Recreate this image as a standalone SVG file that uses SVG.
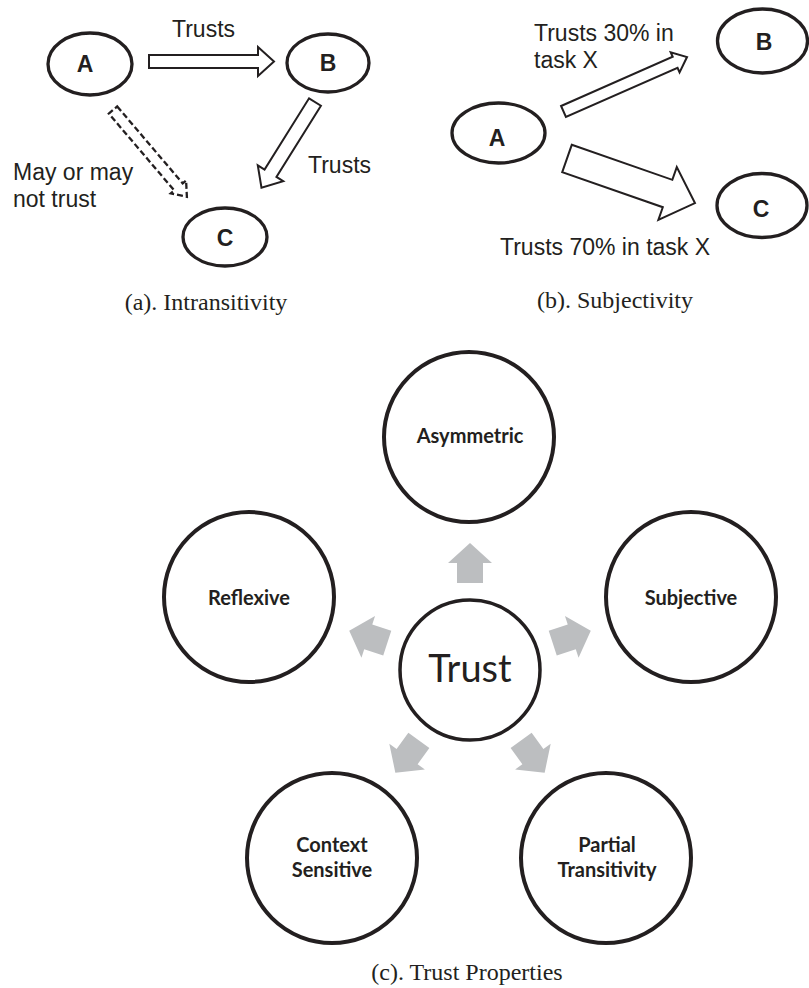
<svg xmlns="http://www.w3.org/2000/svg" width="809" height="988" viewBox="0 0 809 988">
<style>
.ell{fill:#fff;stroke:#231f20;stroke-width:3.3}
.circ{fill:#fff;stroke:#231f20;stroke-width:4}
.lt{font-family:"Liberation Sans",Arial,sans-serif;font-weight:bold;font-size:23px;fill:#231f20;text-anchor:middle}
.lab{font-family:"Liberation Sans",Arial,sans-serif;font-size:23px;fill:#231f20}
.cap{font-family:"Liberation Serif","Times New Roman",serif;font-size:24px;fill:#231f20;text-anchor:middle}
.hol{fill:#fff;stroke:#231f20;stroke-width:2;stroke-linejoin:miter}
.dash{fill:#fff;stroke:#231f20;stroke-width:2.3;stroke-dasharray:6 3}
.gray{fill:#bcbec0}
.bl{font-family:Lato,"Open Sans",sans-serif;font-weight:bold;font-size:20px;fill:#231f20;text-anchor:middle}
.tr{font-family:Lato,"Open Sans",sans-serif;font-size:38px;fill:#231f20;text-anchor:middle}
</style>
<rect width="809" height="988" fill="#fff"/>

<g id="connectors">
  <path class="hol" d="M149,55 L258,55 L258,47 L274,61.5 L258,76 L258,68 L149,68 Z"/>
  <path class="hol" transform="translate(315,102) rotate(122)" d="M0,-7 L84,-7 L84,-15 L101,0 L84,15 L84,7 L0,7 Z"/>
  <path class="dash" transform="translate(113,110) rotate(49.6)" d="M0,-5.5 L101,-5.5 L101,-10 L114,0 L101,10 L101,5.5 L0,5.5 Z"/>
  <path class="hol" transform="translate(563.5,111.5) rotate(-23.8)" d="M0,-6 L122,-6 L122,-11 L135,0 L122,11 L122,6 L0,6 Z"/>
  <path class="hol" transform="translate(567,158.5) rotate(19.2)" d="M0,-14.5 L106.5,-14.5 L106.5,-28 L135.5,0 L106.5,28 L106.5,14.5 L0,14.5 Z"/>
  <g class="gray">
    <path transform="translate(470,670) rotate(0)" d="M-13,-87 L-13,-107 L-22,-107 L0,-127 L22,-107 L13,-107 L13,-87 Z"/>
    <path transform="translate(470,670) rotate(72)" d="M-13,-87 L-13,-107 L-22,-107 L0,-127 L22,-107 L13,-107 L13,-87 Z"/>
    <path transform="translate(470,670) rotate(144)" d="M-13,-87 L-13,-107 L-22,-107 L0,-127 L22,-107 L13,-107 L13,-87 Z"/>
    <path transform="translate(470,670) rotate(216)" d="M-13,-87 L-13,-107 L-22,-107 L0,-127 L22,-107 L13,-107 L13,-87 Z"/>
    <path transform="translate(470,670) rotate(288)" d="M-13,-87 L-13,-107 L-22,-107 L0,-127 L22,-107 L13,-107 L13,-87 Z"/>
  </g>
</g>

<g id="a-A"><ellipse class="ell" cx="90" cy="64" rx="42" ry="31"/><text class="lt" x="85" y="72">A</text></g>
<g id="a-B"><ellipse class="ell" cx="328" cy="63" rx="41" ry="29"/><text class="lt" x="328" y="71">B</text></g>
<g id="a-C"><ellipse class="ell" cx="225" cy="237" rx="42" ry="29"/><text class="lt" x="225" y="246">C</text></g>
<g id="a-labels">
  <text class="lab" x="172" y="37">Trusts</text>
  <text class="lab" x="308" y="173">Trusts</text>
  <text class="lab" x="13" y="180">May or may</text>
  <text class="lab" x="13" y="207">not trust</text>
  <text class="cap" x="206" y="310">(a). Intransitivity</text>
</g>

<g id="b-A"><ellipse class="ell" cx="498.5" cy="133" rx="46.5" ry="30"/><text class="lt" x="497" y="146">A</text></g>
<g id="b-B"><ellipse class="ell" cx="762.5" cy="41" rx="45" ry="32"/><text class="lt" x="764" y="50">B</text></g>
<g id="b-C"><ellipse class="ell" cx="762" cy="205.5" rx="45" ry="32"/><text class="lt" x="761" y="217">C</text></g>
<g id="b-labels">
  <text class="lab" x="534" y="41">Trusts 30% in</text>
  <text class="lab" x="534" y="68">task X</text>
  <text class="lab" x="500" y="255">Trusts 70% in task X</text>
  <text class="cap" x="615" y="308">(b). Subjectivity</text>
</g>

<g id="c-trust"><circle cx="470" cy="670" r="70" fill="#fff" stroke="#231f20" stroke-width="3.5"/><text class="tr" x="470" y="682">Trust</text></g>
<g id="c-asymmetric"><circle class="circ" cx="469" cy="437" r="85"/><text class="bl" x="470" y="443">Asymmetric</text></g>
<g id="c-subjective"><circle class="circ" cx="691" cy="597" r="85"/><text class="bl" x="691" y="605">Subjective</text></g>
<g id="c-partial"><circle class="circ" cx="606" cy="858" r="85"/><text class="bl" x="607" y="852">Partial</text><text class="bl" x="607" y="877">Transitivity</text></g>
<g id="c-context"><circle class="circ" cx="332" cy="858" r="85"/><text class="bl" x="332" y="852">Context</text><text class="bl" x="332" y="877">Sensitive</text></g>
<g id="c-reflexive"><circle class="circ" cx="249" cy="597" r="85"/><text class="bl" x="249" y="605">Reflexive</text></g>
<text class="cap" x="467" y="980">(c). Trust Properties</text>
</svg>
